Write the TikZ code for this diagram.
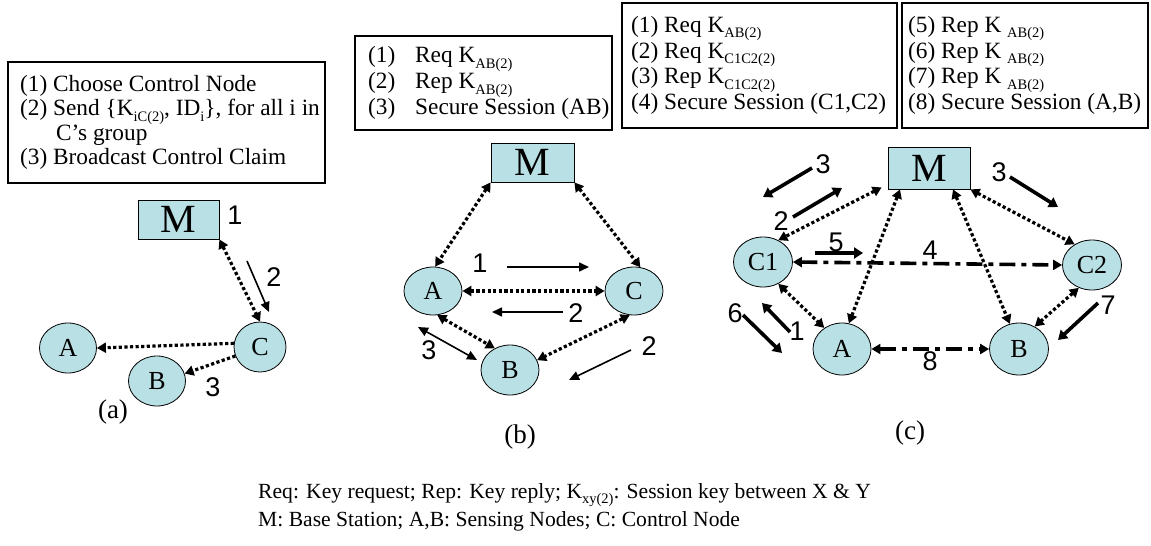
\documentclass[tikz,border=0pt]{standalone}
\usepackage{fontspec}
\setmainfont{Liberation Serif}
\newfontfamily\arialf{Liberation Sans}
\usetikzlibrary{arrows.meta,shapes.geometric,calc}
\definecolor{nodefill}{RGB}{185,224,228}
\newcommand\lsub[1]{\raisebox{-5.5pt}{\fontsize{14.5}{14.5}\selectfont #1}}
\begin{document}
\begin{tikzpicture}[x=1pt,y=-1pt,
  ell/.style={ellipse, draw, line width=0.8pt, fill=nodefill, inner sep=0pt, font=\fontsize{26}{26}\selectfont},
  rectM/.style={rectangle, draw, line width=0.8pt, fill=nodefill, inner sep=0pt, font=\fontsize{40}{40}\selectfont},
  tbox/.style={rectangle, draw, line width=1.2pt, inner sep=0pt},
  btext/.style={anchor=west, align=left, inner sep=0pt, font=\fontsize{23.3}{24.5}\selectfont},
  dotarr/.style={line width=3.2pt, dash pattern=on 3.2pt off 2.4pt, {Triangle[length=9pt,width=10pt]}-{Triangle[length=9pt,width=10pt]}},
  dotone/.style={line width=3.2pt, dash pattern=on 3.2pt off 2.4pt, -{Triangle[length=9pt,width=10pt]}},
  dashdot/.style={line width=3.6pt, dash pattern=on 16pt off 6pt on 5pt off 6pt, {Triangle[length=9pt,width=10pt]}-{Triangle[length=9pt,width=10pt]}},
  solidarr/.style={line width=1.6pt, -{Triangle[length=10pt,width=9pt]}},
  solidboth/.style={line width=1.6pt, {Triangle[length=10pt,width=9pt]}-{Triangle[length=10pt,width=9pt]}},
  thickarr/.style={line width=3.6pt, -{Triangle[length=9pt,width=11pt]}},
  numlbl/.style={font=\arialf\fontsize{27}{27}\selectfont, inner sep=0pt},
  caplbl/.style={font=\fontsize{27}{27}\selectfont, inner sep=0pt}
]
\useasboundingbox (0,0) rectangle (1151,546);

% ---------- text boxes ----------
\node[tbox, minimum width=317pt, minimum height=121pt] (boxa) at (166.5,122.5) {};
\node[btext] (txta) at (20,122.5) {(1) Choose Control Node\\(2) Send \{K\lsub{iC(2)}, ID\lsub{i}\}, for all i in\\\hspace*{36pt}C’s group\\(3) Broadcast Control Claim};

\node[tbox, minimum width=257pt, minimum height=94pt] (boxb) at (483.5,83) {};
\node[btext] (txtb) at (368,83) {\makebox[47pt][l]{(1)}Req K\lsub{AB(2)}\\\makebox[47pt][l]{(2)}Rep K\lsub{AB(2)}\\\makebox[47pt][l]{(3)}Secure Session (AB)};

\node[tbox, minimum width=275pt, minimum height=125pt] (boxc) at (759.5,65.5) {};
\node[btext] (txtc) at (631,65.5) {(1) Req K\lsub{AB(2)}\\(2) Req K\lsub{C1C2(2)}\\(3) Rep K\lsub{C1C2(2)}\\(4) Secure Session (C1,C2)};

\node[tbox, minimum width=246pt, minimum height=125pt] (boxd) at (1025,65.5) {};
\node[btext] (txtd) at (908,65.5) {(5) Rep K \lsub{AB(2)}\\(6) Rep K \lsub{AB(2)}\\(7) Rep K \lsub{AB(2)}\\(8) Secure Session (A,B)};

% ---------- panel (a) ----------
\node[rectM, minimum width=81pt, minimum height=39pt] (Ma) at (178.5,219.5) {M};
\node[ell, minimum width=52pt, minimum height=50pt] (Ca) at (260,347) {C};
\node[ell, minimum width=57pt, minimum height=50pt] (Aa) at (68,348) {A};
\node[ell, minimum width=57pt, minimum height=50pt] (Ba) at (157,381) {B};
\draw[dotarr] (Ma.south east) -- (Ca.north);
\draw[dotone] (Ca.172) -- (Aa.east);
\draw[dotone] (Ca.200) -- (Ba.15);
\coordinate (a2s) at (247,261); \coordinate (a2e) at (269,312);
\draw[solidarr] (a2s) -- (a2e);
\node[numlbl] (la1) at (235,215) {1};
\node[numlbl] (la2) at (274,277) {2};
\node[numlbl] (la3) at (213,387) {3};
\node[caplbl] (capa) at (113,412) {(a)};

% ---------- panel (b) ----------
\node[rectM, minimum width=83pt, minimum height=39pt] (Mb) at (532.5,162.5) {M};
\node[ell, minimum width=58pt, minimum height=48pt] (Ab) at (433,291) {A};
\node[ell, minimum width=58pt, minimum height=48pt] (Cb) at (634,291) {C};
\node[ell, minimum width=58pt, minimum height=50pt] (Bb) at (510,370) {B};
\draw[dotarr] (Mb.south west) -- (Ab.85);
\draw[dotarr] (Mb.south east) -- (Cb.75);
\draw[dotarr] (Ab.east) -- (Cb.west);
\draw[dotarr] (Ab.-80) -- (Bb.125);
\draw[dotarr] (Cb.-100) -- (Bb.20);
\coordinate (b1s) at (507,267); \coordinate (b1e) at (589,267);
\coordinate (b2s) at (563,312); \coordinate (b2e) at (492,312);
\coordinate (b3s) at (418,327); \coordinate (b3e) at (477,360);
\coordinate (b4s) at (631,350); \coordinate (b4e) at (569,380);
\draw[solidarr] (b1s) -- (b1e);
\draw[solidarr] (b2s) -- (b2e);
\draw[solidboth] (b3s) -- (b3e);
\draw[solidarr] (b4s) -- (b4e);
\node[numlbl] (lb1) at (480,263) {1};
\node[numlbl] (lb2) at (576,313) {2};
\node[numlbl] (lb3) at (429,350) {3};
\node[numlbl] (lb4) at (649,346) {2};
\node[caplbl] (capb) at (520,437) {(b)};

% ---------- panel (c) ----------
\node[rectM, minimum width=82pt, minimum height=42pt] (Mc) at (929,168) {M};
\node[ell, minimum width=59pt, minimum height=50pt] (C1) at (763,262) {C1};
\node[ell, minimum width=59pt, minimum height=50pt] (C2) at (1092,265) {C2};
\node[ell, minimum width=58pt, minimum height=52pt] (Ac) at (842,349) {A};
\node[ell, minimum width=59pt, minimum height=52pt] (Bc) at (1019,349) {B};
\draw[dotarr] ($(Mc.south west)+(-6,-2)$) -- (C1.55);
\draw[dotarr] ($(Mc.south west)!0.15!(Mc.south east)$) -- (Ac.75);
\draw[dotarr] ($(Mc.south west)!0.79!(Mc.south east)$) -- (Bc.110);
\draw[dotarr] (Mc.south east) -- (C2.130);
\draw[dashdot] (C1.east) -- (C2.west);
\draw[dashdot] (Ac.east) -- (Bc.west);
\draw[dotarr] (C1.-55) -- (Ac.130);
\draw[dotarr] (C2.-120) -- (Bc.55);
\coordinate (c3s) at (812,168); \coordinate (c3e) at (763,197);
\coordinate (c2s) at (793,217); \coordinate (c2e) at (842,188);
\coordinate (c5s) at (815,253); \coordinate (c5e) at (863,253);
\coordinate (c3rs) at (1010,177); \coordinate (c3re) at (1058,207);
\coordinate (c1s) at (790,332); \coordinate (c1e) at (762,303);
\coordinate (c6s) at (743,315); \coordinate (c6e) at (782,353);
\coordinate (c7s) at (1098,303); \coordinate (c7e) at (1058,340);
\draw[thickarr] (c3s) -- (c3e);
\draw[thickarr] (c2s) -- (c2e);
\draw[thickarr] (c5s) -- (c5e);
\draw[thickarr] (c3rs) -- (c3re);
\draw[thickarr] (c1s) -- (c1e);
\draw[thickarr] (c6s) -- (c6e);
\draw[thickarr] (c7s) -- (c7e);
\node[numlbl] (lc3) at (823,164) {3};
\node[numlbl] (lc2) at (781,221) {2};
\node[numlbl] (lc5) at (836,242) {5};
\node[numlbl] (lc4) at (930,250) {4};
\node[numlbl] (lc3r) at (999,172) {3};
\node[numlbl] (lc1) at (797,331) {1};
\node[numlbl] (lc6) at (735,313) {6};
\node[numlbl] (lc7) at (1108,305) {7};
\node[numlbl] (lc8) at (930,361) {8};
\node[caplbl] (capc) at (910,433) {(c)};

% ---------- legend ----------
\node[anchor=base west, inner sep=0pt, font=\fontsize{21.6}{21.6}\selectfont] (leg1) at (258,498) {Req: Key request; Rep: Key reply; K\lsub{xy(2)}: Session key between X \& Y};
\node[anchor=base west, inner sep=0pt, font=\fontsize{21.6}{21.6}\selectfont] (leg2) at (258,526) {M: Base Station; A,B: Sensing Nodes; C: Control Node};
\end{tikzpicture}
\end{document}
